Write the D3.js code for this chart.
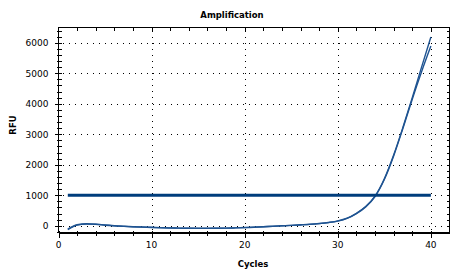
<!doctype html>
<html lang="en">

<head>
    <meta charset="utf-8">
    <script src="https://d3js.org/d3.v7.min.js"></script>
    <title>Amplification</title>
    <style>
        body { margin: 0; background: #fff; }
        text { font-family: "DejaVu Sans", sans-serif; fill: #000; }
    </style>
</head>

<body>
    <svg width="464" height="276" id="svg1"></svg>

    <script>
        // cycle numbers and RFU readings for the two wells
        let cycles = d3.range(1, 41);
        let rfuA = [-110, 35, 65, 55, 25, 2, -15, -30, -40, -50,
                    -60, -68, -75, -80, -82, -82, -80, -75, -68, -58,
                    -45, -30, -15, 0, 15, 32, 50, 75, 110, 160,
                    250, 410, 630, 970, 1540, 2320, 3230, 4200, 5200, 6190];
        let rfuB = [-125, 20, 55, 48, 20, -2, -20, -35, -45, -55,
                    -65, -72, -78, -83, -85, -85, -82, -78, -70, -60,
                    -48, -33, -18, -3, 12, 28, 46, 70, 105, 155,
                    245, 400, 620, 960, 1520, 2290, 3200, 4150, 5050, 5890];
        let threshold = 1000;
        let xTicks = [0, 10, 20, 30, 40];
        let yTicks = [0, 1000, 2000, 3000, 4000, 5000, 6000];

        let width = 464, height = 276;
        let plot = { left: 58.5, right: 449.5, top: 27.5, bottom: 232.5 };
        let lineColor = "#1e5391";
        let threshColor = "#003d7c";

        let svg = d3.select("#svg1");

        let xScale = d3.scaleLinear().domain([0, 42]).range([plot.left, plot.right]);
        let yScale = d3.scaleLinear().domain([-220, 6500]).range([plot.bottom, plot.top]);

        let xMinor = d3.range(0, 42, 2).filter(d => d % 10 != 0);
        let yMinor = d3.range(-200, 6500, 200).filter(d => d % 1000 != 0);

        // dotted grid
        let grid = svg.append("g")
            .attr("stroke", "#000")
            .attr("stroke-width", 1)
            .attr("stroke-dasharray", "1,5")
            .attr("shape-rendering", "crispEdges");

        grid.selectAll(".gx")
            .data(xTicks.filter(d => d > 0))
            .join("line")
            .attr("x1", d => Math.round(xScale(d)) + 0.5)
            .attr("x2", d => Math.round(xScale(d)) + 0.5)
            .attr("y1", plot.top + 3)
            .attr("y2", plot.bottom);

        grid.selectAll(".gy")
            .data(yTicks)
            .join("line")
            .attr("y1", d => Math.round(yScale(d)) + 0.5)
            .attr("y2", d => Math.round(yScale(d)) + 0.5)
            .attr("x1", plot.left + 4)
            .attr("x2", plot.right);

        // amplification curves
        let lineGen = d3.line()
            .x((d, i) => xScale(cycles[i]))
            .y(d => yScale(d))
            .curve(d3.curveMonotoneX);

        svg.append("g")
            .selectAll("path")
            .data([rfuB, rfuA])
            .join("path")
            .attr("d", lineGen)
            .attr("fill", "none")
            .attr("stroke", lineColor)
            .attr("stroke-width", 1.4);

        // threshold
        svg.append("line")
            .attr("x1", xScale(cycles[0]))
            .attr("x2", xScale(cycles[cycles.length - 1]))
            .attr("y1", yScale(threshold))
            .attr("y2", yScale(threshold))
            .attr("stroke", threshColor)
            .attr("stroke-width", 3);

        // frame
        let frame = svg.append("g")
            .attr("stroke", "#000")
            .attr("stroke-width", 1)
            .attr("fill", "none")
            .attr("shape-rendering", "crispEdges");

        frame.append("path")
            .attr("d", `M${plot.left},${plot.bottom}V${plot.top}H${plot.right}V${plot.bottom}`);
        frame.append("line")
            .attr("x1", plot.left).attr("x2", plot.right)
            .attr("y1", plot.bottom).attr("y2", plot.bottom)
            .attr("stroke-width", 2);

        // left axis ticks
        frame.selectAll(".ly")
            .data(yTicks)
            .join("line")
            .attr("x1", plot.left - 4).attr("x2", plot.left + 3)
            .attr("y1", d => Math.round(yScale(d)) + 0.5)
            .attr("y2", d => Math.round(yScale(d)) + 0.5);
        frame.selectAll(".lym")
            .data(yMinor)
            .join("line")
            .attr("x1", plot.left - 2).attr("x2", plot.left + 3)
            .attr("y1", d => Math.round(yScale(d)) + 0.5)
            .attr("y2", d => Math.round(yScale(d)) + 0.5);

        // right border ticks
        frame.selectAll(".ry")
            .data(yTicks.concat(yMinor))
            .join("line")
            .attr("x1", plot.right - 3).attr("x2", plot.right)
            .attr("y1", d => Math.round(yScale(d)) + 0.5)
            .attr("y2", d => Math.round(yScale(d)) + 0.5);

        // bottom axis ticks
        frame.selectAll(".bx")
            .data(xTicks)
            .join("line")
            .attr("y1", plot.bottom - 2).attr("y2", plot.bottom + 5)
            .attr("x1", d => Math.round(xScale(d)) + 0.5)
            .attr("x2", d => Math.round(xScale(d)) + 0.5);
        frame.selectAll(".bxm")
            .data(xMinor)
            .join("line")
            .attr("y1", plot.bottom - 2).attr("y2", plot.bottom + 3)
            .attr("x1", d => Math.round(xScale(d)) + 0.5)
            .attr("x2", d => Math.round(xScale(d)) + 0.5);

        // top border ticks
        frame.selectAll(".tx")
            .data(xTicks.concat(xMinor).filter(d => d > 0))
            .join("line")
            .attr("y1", plot.top).attr("y2", plot.top + 3)
            .attr("x1", d => Math.round(xScale(d)) + 0.5)
            .attr("x2", d => Math.round(xScale(d)) + 0.5);

        // tick labels
        svg.append("g")
            .selectAll("text")
            .data(yTicks)
            .join("text")
            .attr("x", plot.left - 10)
            .attr("y", d => yScale(d) + 3.5)
            .attr("text-anchor", "end")
            .attr("font-size", 9)
            .text(d => d);

        svg.append("g")
            .selectAll("text")
            .data(xTicks)
            .join("text")
            .attr("x", d => xScale(d))
            .attr("y", 248)
            .attr("text-anchor", "middle")
            .attr("font-size", 9)
            .text(d => d);

        // titles
        svg.append("text")
            .attr("x", 232).attr("y", 17.5)
            .attr("text-anchor", "middle")
            .attr("font-size", 8.5)
            .attr("font-weight", "bold")
            .text("Amplification");

        svg.append("text")
            .attr("x", 253).attr("y", 267)
            .attr("text-anchor", "middle")
            .attr("font-size", 8.5)
            .attr("font-weight", "bold")
            .text("Cycles");

        svg.append("text")
            .attr("transform", "translate(16,125) rotate(-90)")
            .attr("text-anchor", "middle")
            .attr("font-size", 8.5)
            .attr("font-weight", "bold")
            .text("RFU");
    </script>
</body>

</html>
